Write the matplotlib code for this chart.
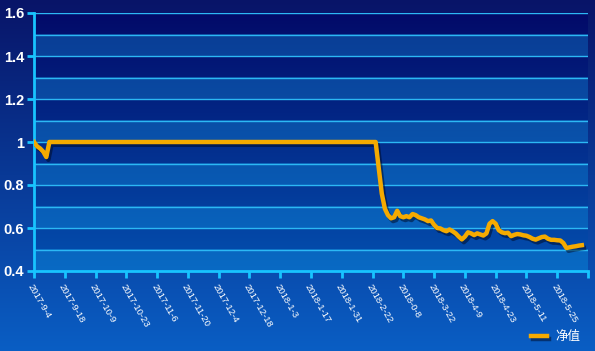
import matplotlib.pyplot as plt
import matplotlib.patheffects as pe
import numpy as np

plt.rcParams['font.family'] = ['Noto Sans CJK SC', 'DejaVu Sans']

# 净值 series (one value per trading day)
nav_start = [1.0, 0.98, 0.97, 0.955, 0.93]
nav_flat = [
    1.0, 1.0, 1.0, 1.0, 1.0, 1.0, 1.0, 1.0, 1.0, 1.0, 1.0, 1.0, 1.0, 1.0, 1.0, 1.0, 1.0, 1.0, 1.0, 1.0,
    1.0, 1.0, 1.0, 1.0, 1.0, 1.0, 1.0, 1.0, 1.0, 1.0, 1.0, 1.0, 1.0, 1.0, 1.0, 1.0, 1.0, 1.0, 1.0, 1.0,
    1.0, 1.0, 1.0, 1.0, 1.0, 1.0, 1.0, 1.0, 1.0, 1.0, 1.0, 1.0, 1.0, 1.0, 1.0, 1.0, 1.0, 1.0, 1.0, 1.0,
    1.0, 1.0, 1.0, 1.0, 1.0, 1.0, 1.0, 1.0, 1.0, 1.0, 1.0, 1.0, 1.0, 1.0, 1.0, 1.0, 1.0, 1.0, 1.0, 1.0,
    1.0, 1.0, 1.0, 1.0, 1.0, 1.0, 1.0, 1.0, 1.0, 1.0, 1.0, 1.0, 1.0, 1.0, 1.0, 1.0, 1.0, 1.0, 1.0, 1.0,
    1.0, 1.0, 1.0, 1.0, 1.0, 1.0, 1.0,
]
nav_end = [
    0.88, 0.76, 0.69, 0.66, 0.645, 0.65, 0.68, 0.655, 0.65, 0.655,
    0.65, 0.665, 0.66, 0.65, 0.645, 0.64, 0.632, 0.635, 0.615, 0.6,
    0.598, 0.59, 0.585, 0.593, 0.585, 0.575, 0.56, 0.547, 0.56, 0.58,
    0.575, 0.567, 0.575, 0.57, 0.565, 0.575, 0.62, 0.632, 0.62, 0.59,
    0.58, 0.576, 0.578, 0.562, 0.568, 0.572, 0.57, 0.566, 0.564, 0.558,
    0.55, 0.546, 0.552, 0.558, 0.56, 0.55, 0.545, 0.545, 0.543, 0.542,
    0.53, 0.507, 0.51, 0.513, 0.515, 0.518, 0.52,
]
nav = nav_start + nav_flat + nav_end

# one label every 10 trading days
tick_labels = ['2017-9-4', '2017-9-18', '2017-10-9', '2017-10-23', '2017-11-6',
               '2017-11-20', '2017-12-4', '2017-12-18', '2018-1-3', '2018-1-17',
               '2018-1-31', '2018-2-22', '2018-0-8', '2018-3-22', '2018-4-9',
               '2018-4-23', '2018-5-11', '2018-5-25']
y_ticks = [0.4, 0.6, 0.8, 1.0, 1.2, 1.4, 1.6]
y_tick_labels = ['0.4', '0.6', '0.8', '1', '1.2', '1.4', '1.6']


def hexrgb(h):
    return np.array([int(h[i:i + 2], 16) for i in (1, 3, 5)]) / 255


fig = plt.figure(figsize=(5.95, 3.51), dpi=100)

# background gradient
bg = fig.add_axes([0, 0, 1, 1], zorder=0)
t = np.linspace(0, 1, 256).reshape(-1, 1, 1)
top, bot = hexrgb('#081468'), hexrgb('#0a5ec4')
bg.imshow(top + (bot - top) * t, aspect='auto', extent=[0, 1, 0, 1])
bg.axis('off')

ax = fig.add_axes([34 / 595, 1 - 271 / 351, 554 / 595, 258 / 351], zorder=1)
ax.set_facecolor('none')

# alternating bands (dark / light), each with its own vertical gradient
rows = 1200
yy = np.linspace(1.6, 0.4, rows)
tt = ((1.6 - yy) / 1.2).reshape(-1, 1)
dark = hexrgb('#020a68') + (hexrgb('#0450b0') - hexrgb('#020a68')) * tt
light = hexrgb('#0a3a92') + (hexrgb('#086ac4') - hexrgb('#0a3a92')) * tt
band = (np.floor((yy - 0.4) / 0.1 + 1e-9) % 2 == 0).reshape(-1, 1)
band_img = np.where(band, light, dark).reshape(rows, 1, 3)
ax.imshow(band_img, aspect='auto', extent=[0, 180, 0.4, 1.6], zorder=0,
          interpolation='nearest')
for k in range(1, 13):
    ax.axhline(0.4 + k * 0.1, color='#2cb8f4', lw=1.0, zorder=1)

x = np.arange(len(nav))
ax.plot(x, nav, color='#f5aa00', lw=3.2, solid_joinstyle='round', zorder=3,
        label='净值',
        path_effects=[pe.SimpleLineShadow(offset=(1.5, -2), shadow_color='#000820', alpha=0.5),
                      pe.Normal()])

ax.set_xlim(0, 180)
ax.set_ylim(0.4, 1.6)
ax.set_xticks(np.arange(0, 181, 10))
ax.set_xticklabels(tick_labels + [''], rotation=-60, ha='left', va='top',
                   rotation_mode='anchor', fontsize=6.8, color='white',
                   family='Liberation Sans')
ax.set_yticks(y_ticks)
ax.set_yticklabels(y_tick_labels, fontsize=10.5, color='white', fontweight='bold',
                   family='Liberation Sans')

for s in ['top', 'right']:
    ax.spines[s].set_visible(False)
for s in ['left', 'bottom']:
    ax.spines[s].set_color('#18c4ff')
    ax.spines[s].set_linewidth(2)
ax.tick_params(axis='both', colors='#18c4ff', width=2, length=5, direction='out')
ax.tick_params(axis='x', labelcolor='white', pad=3)
ax.tick_params(axis='y', labelcolor='white', pad=2)

leg = fig.legend(loc='lower right', bbox_to_anchor=(0.995, -0.01), frameon=False,
                 fontsize=9, handlelength=1.3, handletextpad=0.7, labelcolor='white')

fig.savefig('out.png', dpi=100)
